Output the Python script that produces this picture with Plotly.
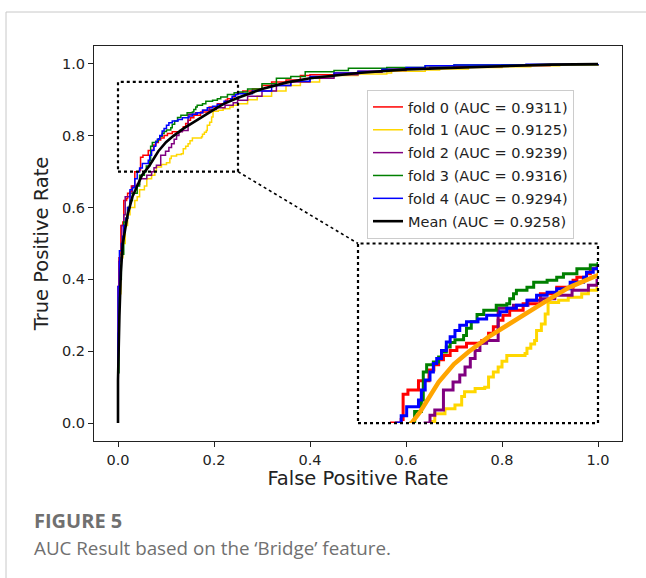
import plotly.graph_objects as go

# ---- data (ROC step corners: fpr, tpr) ----
fold_names = ["fold 0 (AUC = 0.9311)", "fold 1 (AUC = 0.9125)", "fold 2 (AUC = 0.9239)",
              "fold 3 (AUC = 0.9316)", "fold 4 (AUC = 0.9294)"]
fold_colors = ["#ff0000", "#ffd700", "#800080", "#008000", "#0000ff"]

fpr0 = [0, 0, 0.002, 0.004, 0.006, 0.010, 0.012, 0.018, 0.020, 0.025, 0.028, 0.035, 0.045, 0.047, 0.052,
        0.063, 0.074, 0.079, 0.084, 0.089, 0.096, 0.103, 0.113, 0.129, 0.136, 0.141, 0.146, 0.151, 0.158,
        0.172, 0.190, 0.207, 0.224, 0.228, 0.238, 0.242, 0.249, 0.26, 0.28, 0.30, 0.32, 0.35, 0.38, 0.40,
        0.45, 0.50, 0.55, 0.60, 0.65, 0.70, 0.80, 0.90, 1.0]
tpr0 = [0, 0.38, 0.46, 0.47, 0.55, 0.56, 0.62, 0.625, 0.64, 0.645, 0.66, 0.70, 0.705, 0.740, 0.746,
        0.759, 0.774, 0.781, 0.788, 0.794, 0.801, 0.806, 0.811, 0.815, 0.825, 0.834, 0.843, 0.850, 0.857,
        0.866, 0.880, 0.889, 0.899, 0.903, 0.908, 0.915, 0.919, 0.925, 0.93, 0.94, 0.95, 0.955, 0.968, 0.97,
        0.975, 0.98, 0.985, 0.988, 0.99, 0.993, 0.996, 0.998, 1.0]

fpr1 = [0, 0, 0.002, 0.004, 0.006, 0.010, 0.015, 0.020, 0.025, 0.035, 0.040, 0.045, 0.055, 0.060, 0.070,
        0.0767, 0.080, 0.0906, 0.101, 0.108, 0.111, 0.122, 0.132, 0.136, 0.141, 0.146, 0.150, 0.155, 0.174,
        0.176, 0.180, 0.184, 0.186, 0.191, 0.195, 0.198, 0.209, 0.219, 0.233, 0.240, 0.249, 0.27, 0.29, 0.32,
        0.35, 0.38, 0.42, 0.45, 0.50, 0.56, 0.57, 0.64, 0.67, 0.73, 0.80, 0.86, 0.92, 1.0]
tpr1 = [0, 0.20, 0.35, 0.36, 0.46, 0.50, 0.55, 0.58, 0.60, 0.62, 0.63, 0.65, 0.66, 0.68, 0.69,
        0.702, 0.713, 0.720, 0.725, 0.737, 0.7435, 0.748, 0.75, 0.764, 0.771, 0.778, 0.786, 0.794, 0.797,
        0.804, 0.81, 0.815, 0.829, 0.838, 0.852, 0.868, 0.871, 0.875, 0.88, 0.885, 0.889, 0.90, 0.91, 0.925,
        0.94, 0.95, 0.962, 0.968, 0.972, 0.975, 0.98, 0.983, 0.986, 0.99, 0.992, 0.995, 0.998, 1.0]

fpr2 = [0, 0, 0.002, 0.005, 0.008, 0.012, 0.015, 0.025, 0.030, 0.040, 0.045, 0.060, 0.070, 0.075, 0.080,
        0.089, 0.099, 0.106, 0.1115, 0.117, 0.122, 0.127, 0.134, 0.146, 0.162, 0.177, 0.191, 0.205, 0.223,
        0.240, 0.249, 0.27, 0.30, 0.33, 0.36, 0.40, 0.45, 0.50, 0.55, 0.60, 0.65, 0.70, 0.80, 0.90, 1.0]
tpr2 = [0, 0.25, 0.45, 0.46, 0.55, 0.58, 0.63, 0.64, 0.66, 0.665, 0.68, 0.69, 0.70, 0.711, 0.718,
        0.746, 0.757, 0.767, 0.778, 0.790, 0.801, 0.811, 0.815, 0.860, 0.864, 0.871, 0.873, 0.878, 0.885,
        0.892, 0.899, 0.91, 0.925, 0.94, 0.95, 0.96, 0.97, 0.977, 0.982, 0.986, 0.99, 0.993, 0.996, 0.998, 1.0]

fpr3 = [0, 0, 0.002, 0.004, 0.007, 0.012, 0.016, 0.020, 0.025, 0.030, 0.040, 0.045, 0.055, 0.059, 0.066,
        0.068, 0.0715, 0.0785, 0.084, 0.087, 0.092, 0.096, 0.101, 0.110, 0.113, 0.118, 0.124, 0.131, 0.144,
        0.155, 0.158, 0.162, 0.165, 0.176, 0.183, 0.197, 0.207, 0.214, 0.228, 0.242, 0.25, 0.27, 0.30, 0.33,
        0.36, 0.39, 0.45, 0.48, 0.56, 0.64, 0.70, 0.80, 1.0]
tpr3 = [0, 0.14, 0.35, 0.40, 0.47, 0.56, 0.57, 0.60, 0.62, 0.64, 0.66, 0.69, 0.70, 0.716, 0.732,
        0.771, 0.781, 0.785, 0.792, 0.799, 0.806, 0.812, 0.816, 0.822, 0.832, 0.841, 0.851, 0.857, 0.864,
        0.866, 0.873, 0.880, 0.885, 0.889, 0.896, 0.899, 0.903, 0.908, 0.915, 0.920, 0.922, 0.93, 0.945, 0.96,
        0.965, 0.978, 0.982, 0.988, 0.99, 0.995, 0.997, 0.998, 1.0]

fpr4 = [0, 0, 0.003, 0.007, 0.010, 0.012, 0.016, 0.020, 0.025, 0.030, 0.035, 0.040, 0.045, 0.0507, 0.063,
        0.066, 0.070, 0.075, 0.0785, 0.082, 0.087, 0.092, 0.096, 0.101, 0.106, 0.113, 0.125, 0.134, 0.148,
        0.155, 0.165, 0.176, 0.186, 0.197, 0.207, 0.221, 0.235, 0.238, 0.245, 0.25, 0.28, 0.32, 0.36, 0.40,
        0.45, 0.50, 0.55, 0.60, 0.64, 0.70, 0.85, 1.0]
tpr4 = [0, 0.38, 0.48, 0.50, 0.52, 0.55, 0.57, 0.60, 0.65, 0.655, 0.68, 0.70, 0.71, 0.7227, 0.732,
        0.746, 0.760, 0.771, 0.783, 0.790, 0.801, 0.813, 0.820, 0.829, 0.836, 0.841, 0.845, 0.850, 0.855,
        0.86, 0.864, 0.871, 0.878, 0.882, 0.887, 0.896, 0.903, 0.910, 0.915, 0.917, 0.925, 0.94, 0.952, 0.965,
        0.975, 0.98, 0.985, 0.99, 0.995, 0.997, 0.999, 1.0]

mean_fpr = [0, 0, 0.003, 0.006, 0.010, 0.015, 0.020, 0.030, 0.040, 0.050, 0.065, 0.084, 0.100, 0.115, 0.136,
            0.150, 0.170, 0.190, 0.205, 0.220, 0.250, 0.30, 0.35, 0.40, 0.50, 0.60, 0.70, 0.80, 0.90, 1.0]
mean_tpr = [0, 0.12, 0.30, 0.42, 0.50, 0.54, 0.58, 0.63, 0.66, 0.69, 0.716, 0.757, 0.782, 0.799, 0.82,
            0.832, 0.848, 0.865, 0.877, 0.889, 0.906, 0.93, 0.948, 0.96, 0.975, 0.985, 0.99, 0.995, 0.998, 1.0]
mean_name = "Mean (AUC = 0.9258)"

folds = [(fpr0, tpr0), (fpr1, tpr1), (fpr2, tpr2), (fpr3, tpr3), (fpr4, tpr4)]

x_ticks = [0.0, 0.2, 0.4, 0.6, 0.8, 1.0]
y_ticks = [0.0, 0.2, 0.4, 0.6, 0.8, 1.0]
zoom_x = [0.0, 0.25]
zoom_y = [0.70, 0.95]
inset_box_x = [0.5, 1.0]
inset_box_y = [0.0, 0.5]

# ---- figure ----
W, H = 646, 578
L, R, T, B = 94, 24, 46, 137
fig = go.Figure()
FONT = "DejaVu Sans"
INK = "#222222"

for i, (fx, ty) in enumerate(folds):
    fig.add_trace(go.Scatter(x=fx, y=ty, mode="lines", line=dict(color=fold_colors[i], width=1.5, shape="hv"),
                             name=fold_names[i], legendgroup=f"g{i}", xaxis="x", yaxis="y"))
fig.add_trace(go.Scatter(x=mean_fpr, y=mean_tpr, mode="lines", line=dict(color="black", width=2.6),
                         name=mean_name, legendgroup="gm", xaxis="x", yaxis="y"))

# inset traces
for i, (fx, ty) in enumerate(folds):
    fig.add_trace(go.Scatter(x=fx, y=ty, mode="lines", line=dict(color=fold_colors[i], width=3, shape="hv"),
                             showlegend=False, xaxis="x2", yaxis="y2", hoverinfo="skip"))
fig.add_trace(go.Scatter(x=mean_fpr, y=mean_tpr, mode="lines", line=dict(color="#ffa500", width=4.5),
                         showlegend=False, xaxis="x2", yaxis="y2", hoverinfo="skip"))

dot = dict(color="black", width=2.2, dash="dot")
fig.add_shape(type="rect", xref="x", yref="y", x0=zoom_x[0], x1=zoom_x[1], y0=zoom_y[0], y1=zoom_y[1],
              line=dot, layer="above")
fig.add_shape(type="rect", xref="x", yref="y", x0=inset_box_x[0], x1=inset_box_x[1], y0=inset_box_y[0],
              y1=inset_box_y[1], line=dot, layer="above")
fig.add_shape(type="line", xref="x", yref="y", x0=zoom_x[1], y0=zoom_y[0], x1=inset_box_x[0], y1=inset_box_y[1],
              line=dict(color="black", width=1.6, dash="dot"), layer="above")

# page frame
pw = W - L - R
ph = H - T - B
def px2x(p):
    return (p - L) / pw
def py2y(p):
    return (H - B - p) / ph
fig.add_shape(type="line", xref="paper", yref="paper", x0=px2x(6), x1=px2x(646), y0=py2y(12), y1=py2y(12),
              line=dict(color="#c8c8c8", width=1))
fig.add_shape(type="line", xref="paper", yref="paper", x0=px2x(6), x1=px2x(6), y0=py2y(12), y1=py2y(578),
              line=dict(color="#c8c8c8", width=1))

fig.add_annotation(xref="paper", yref="paper", x=px2x(32), y=py2y(520), xanchor="left", yanchor="middle",
                   text="<b>FIGURE 5</b>", showarrow=False,
                   font=dict(family="Open Sans", size=20, color="#707070"))
fig.add_annotation(xref="paper", yref="paper", x=px2x(32), y=py2y(548), xanchor="left", yanchor="middle",
                   text="AUC Result based on the \u2018Bridge\u2019 feature.", showarrow=False,
                   font=dict(family="Open Sans", size=18.8, color="#707070"))

axis_common = dict(showgrid=False, zeroline=False, showline=True, mirror=True, linecolor=INK,
                   linewidth=1.2, ticks="outside", ticklen=5, tickcolor=INK,
                   tickfont=dict(family=FONT, size=14.5, color=INK))
fig.update_layout(
    width=W, height=H, margin=dict(l=L, r=R, t=T, b=B, autoexpand=False),
    paper_bgcolor="white", plot_bgcolor="white",
    font=dict(family=FONT, color=INK),
    xaxis=dict(range=[-0.05, 1.05], domain=[0, 1], tickvals=x_ticks, ticktext=[f"{v:.1f}" for v in x_ticks],
               title=dict(text="False Positive Rate", font=dict(family=FONT, size=19.5, color=INK), standoff=4),
               **axis_common),
    yaxis=dict(range=[-0.05, 1.05], domain=[0, 1], tickvals=y_ticks, ticktext=[f"{v:.1f}" for v in y_ticks],
               title=dict(text="True Positive Rate", font=dict(family=FONT, size=19.5, color=INK), standoff=8),
               **axis_common),
    xaxis2=dict(range=zoom_x, domain=[0.55 / 1.1, 1.05 / 1.1], anchor="y2", visible=False),
    yaxis2=dict(range=zoom_y, domain=[0.05 / 1.1, 0.55 / 1.1], anchor="x2", visible=False),
    legend=dict(x=px2x(367), y=py2y(90), xanchor="left", yanchor="top", bgcolor="white",
                bordercolor="#cccccc", borderwidth=1, font=dict(family=FONT, size=14.5, color=INK),
                traceorder="grouped", tracegroupgap=1, itemwidth=30),
    showlegend=True,
)

fig.write_html("out.html", config={"displayModeBar": False},
               post_script="document.body.style.margin='0px';document.body.style.overflow='hidden';")
